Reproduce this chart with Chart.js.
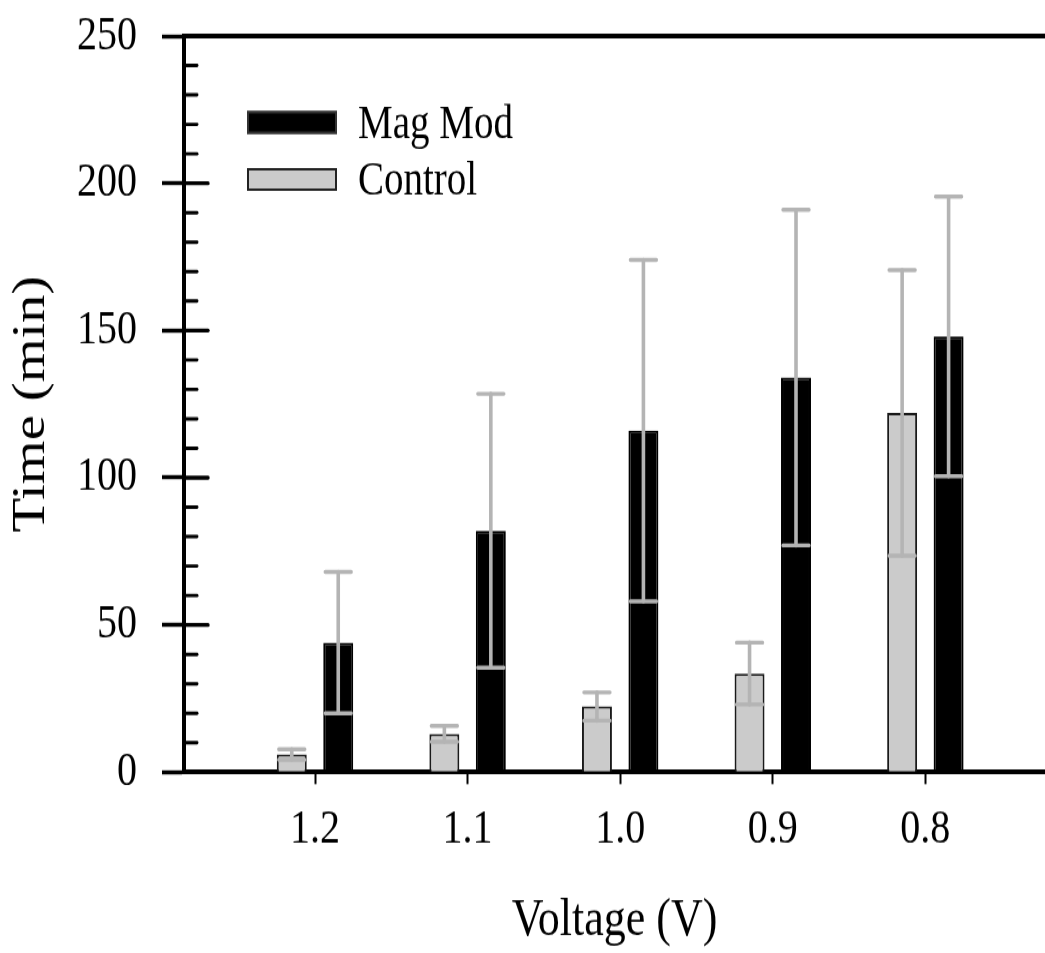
<!DOCTYPE html>
<html>
<head>
<meta charset="utf-8">
<title>Time vs Voltage</title>
<script src="https://cdn.jsdelivr.net/npm/chart.js@4.4.1/dist/chart.umd.min.js"></script>
<style>
  html, body { margin: 0; padding: 0; background: #ffffff; overflow: hidden; }
</style>
</head>
<body>
<!-- drawn at 1045x794 and shown 1.2x taller, giving the tall serif lettering -->
<canvas id="chart" width="1045" height="794" style="display:block;width:1045px;height:953px"></canvas>
<script>
// Voltage categories (left to right)
const categories = ['1.2', '1.1', '1.0', '0.9', '0.8'];

// Mean time (min) and error (+/-) for each series
const magMod     = [44, 82, 116, 134, 148];
const magModErr  = [24, 46.5, 58, 57, 47.5];
const control    = [6, 13, 22.3, 33.5, 122];
const controlErr = [1.8, 2.7, 4.8, 10.5, 48.5];

// Y axis labels
const yTicks = [0, 50, 100, 150, 200, 250];

const SERIF = "'Liberation Serif', 'Times New Roman', Times, serif";
const ERR_COLOR = '#b4b4b4';

// Error bars: vertical line through the bar top with a cap at each end
const errorBars = {
  id: 'errorBars',
  afterDatasetsDraw(chart) {
    const { ctx, scales: { y } } = chart;
    ctx.save();
    ctx.strokeStyle = ERR_COLOR;
    ctx.lineCap = 'round';
    chart.data.datasets.forEach((ds, d) => {
      const meta = chart.getDatasetMeta(d);
      meta.data.forEach((bar, i) => {
        const v = ds.data[i].y;
        const e = ds.errorBars[i];
        const yHi = y.getPixelForValue(v + e);
        const yLo = y.getPixelForValue(v - e);
        const half = bar.width / 2 - 2;
        ctx.lineWidth = 3.6;
        ctx.beginPath();
        ctx.moveTo(bar.x, yLo);
        ctx.lineTo(bar.x, yHi);
        ctx.stroke();
        ctx.lineWidth = 3.4;
        ctx.beginPath();
        ctx.moveTo(bar.x - half, yHi);
        ctx.lineTo(bar.x + half, yHi);
        ctx.moveTo(bar.x - half, yLo);
        ctx.lineTo(bar.x + half, yLo);
        ctx.stroke();
      });
    });
    ctx.restore();
  }
};

// Top frame line, inward major ticks and minor ticks on the value axis
const axisDecor = {
  id: 'axisDecor',
  afterDraw(chart) {
    const { ctx, chartArea, scales: { y } } = chart;
    ctx.save();
    ctx.strokeStyle = '#000';
    ctx.lineCap = 'butt';
    ctx.lineWidth = 3.8;
    const yTop = y.getPixelForValue(y.max);
    ctx.beginPath();
    ctx.moveTo(chartArea.left, yTop);
    ctx.lineTo(chartArea.right, yTop);
    ctx.stroke();

    ctx.lineCap = 'round';
    for (let v = 10; v < y.max; v += 10) {
      const py = y.getPixelForValue(v);
      const major = v % 50 === 0;
      ctx.lineWidth = major ? 3.4 : 2.9;
      ctx.beginPath();
      ctx.moveTo(chartArea.left, py);
      ctx.lineTo(chartArea.left + (major ? 24 : 13), py);
      ctx.stroke();
    }
    ctx.restore();
  }
};

// Legend box in the upper left of the plot
const plotLegend = {
  id: 'plotLegend',
  afterDraw(chart) {
    const { ctx } = chart;
    const order = [1, 0];
    const rows = [92.5, 140];
    ctx.save();
    ctx.font = `39px ${SERIF}`;
    ctx.textAlign = 'left';
    ctx.textBaseline = 'alphabetic';
    order.forEach((d, k) => {
      const ds = chart.data.datasets[d];
      const top = rows[k];
      ctx.fillStyle = ds.backgroundColor;
      ctx.fillRect(247, top, 90, 19);
      ctx.lineWidth = 2;
      ctx.strokeStyle = ds.legendBorder;
      ctx.strokeRect(248, top + 1, 88, 17);
      ctx.fillStyle = '#000';
      ctx.fillText(ds.label, 358, top + 9.5 + 12.9);
    });
    ctx.restore();
  }
};

const toPoints = (vals) => vals.map((v, i) => ({ x: i, y: v }));

new Chart(document.getElementById('chart'), {
  type: 'bar',
  data: {
    datasets: [
      {
        label: 'Control',
        data: toPoints(control),
        errorBars: controlErr,
        backgroundColor: '#cbcbcb',
        borderColor: '#1a1a1a',
        legendBorder: '#222222',
        borderWidth: 2
      },
      {
        label: 'Mag Mod',
        data: toPoints(magMod),
        errorBars: magModErr,
        backgroundColor: '#000000',
        borderColor: '#000000',
        legendBorder: '#333333',
        borderWidth: 2
      }
    ]
  },
  options: {
    responsive: false,
    animation: false,
    devicePixelRatio: 1,
    categoryPercentage: 0.609,
    barPercentage: 0.645,
    layout: { padding: { top: 30, right: 0, bottom: 0, left: 0 } },
    plugins: {
      legend: { display: false },
      tooltip: { enabled: false }
    },
    scales: {
      x: {
        type: 'linear',
        offset: false,
        min: -0.8585,
        max: 4.784,
        afterBuildTicks: (s) => { s.ticks = categories.map((_, i) => ({ value: i })); },
        afterFit: (s) => {
          s.height = 794 - 643.33;
          s.paddingLeft = 0;
          s.paddingRight = 0;
        },
        grid: {
          display: true,
          offset: false,
          drawOnChartArea: false,
          drawTicks: true,
          tickLength: 10,
          tickWidth: 2,
          tickColor: '#000'
        },
        border: { display: true, width: 4, color: '#000' },
        ticks: {
          autoSkip: false,
          maxRotation: 0,
          padding: 14,
          color: '#000',
          font: { family: SERIF, size: 40 },
          callback: (v, i) => categories[i]
        },
        title: {
          display: true,
          text: 'Voltage (V)',
          color: '#000',
          font: { family: SERIF, size: 44 },
          padding: { top: 0, bottom: 0 }
        }
      },
      y: {
        min: 0,
        max: 250,
        afterBuildTicks: (s) => { s.ticks = yTicks.map((v) => ({ value: v })); },
        afterFit: (s) => {
          s.width = 184;
          s.paddingTop = 0;
          s.paddingBottom = 0;
        },
        grid: {
          display: true,
          drawOnChartArea: false,
          drawTicks: true,
          tickLength: 22,
          tickWidth: 3.4,
          tickColor: '#000'
        },
        border: { display: true, width: 4, color: '#000' },
        ticks: {
          padding: 25,
          color: '#000',
          font: { family: SERIF, size: 40 },
          callback: (v) => String(v)
        },
        title: {
          display: true,
          text: 'Time (min)',
          color: '#000',
          font: { family: SERIF, size: 47 },
          padding: { top: 3, bottom: 0 }
        }
      }
    }
  },
  plugins: [errorBars, axisDecor, plotLegend]
});
</script>
</body>
</html>
